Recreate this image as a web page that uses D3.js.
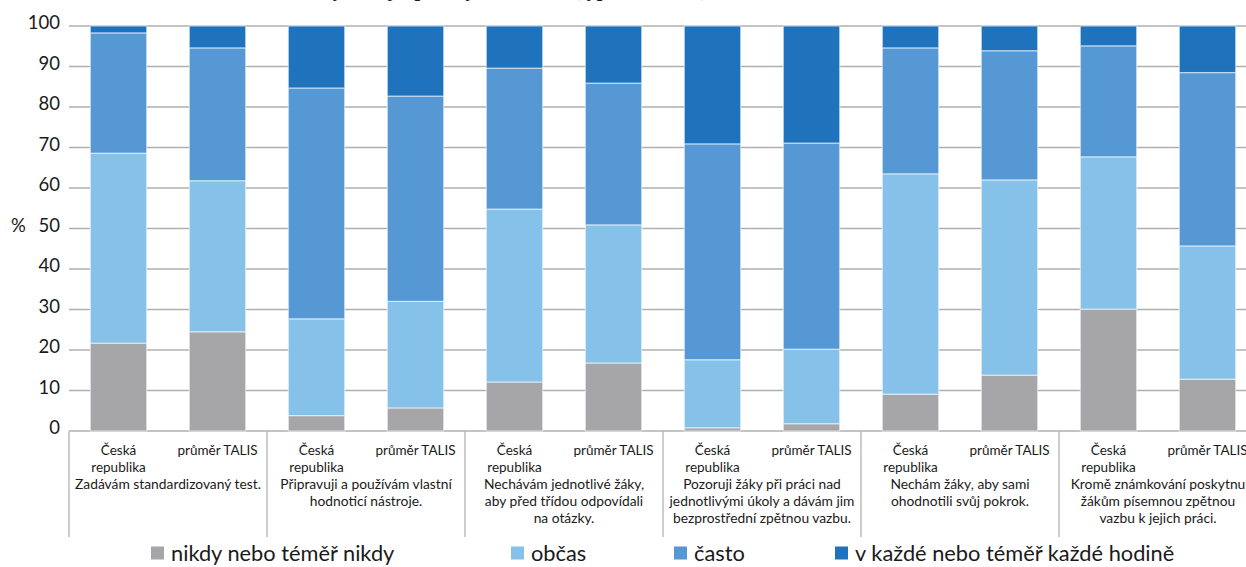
<!DOCTYPE html>
<html>
<head>
<meta charset="utf-8">
<script src="https://cdn.jsdelivr.net/npm/d3@7"></script>
<style>
  body { margin: 0; background: #fff; }
  svg { display: block; }
  text { font-family: Lato, "Open Sans", sans-serif; fill: #1a1a1a; }
</style>
</head>
<body>
<svg id="chart" width="1246" height="567"></svg>
<script>
// groups (statements) and the two bars in each group
var groups = [
    ['Zadávám standardizovaný test.'],
    ['Připravuji a používám vlastní', 'hodnoticí nástroje.'],
    ['Nechávám jednotlivé žáky,', 'aby před třídou odpovídali', 'na otázky.'],
    ['Pozoruji žáky při práci nad', 'jednotlivými úkoly a dávám jim', 'bezprostřední zpětnou vazbu.'],
    ['Nechám žáky, aby sami', 'ohodnotili svůj pokrok.'],
    ['Kromě známkování poskytnu', 'žákům písemnou zpětnou', 'vazbu k jejich práci.']
];
var subLabels = [['Česká', 'republika'], ['průměr TALIS']];

var seriesNames = ['nikdy nebo téměř nikdy', 'občas', 'často', 'v každé nebo téměř každé hodině'];
var seriesColors = ['#a6a6a9', '#85c1e9', '#5598d4', '#1f73bd'];

// values per bar, order: CZ, TALIS for each group
var nikdy = [21.7, 24.5, 3.8, 5.7, 12.1, 16.8, 0.8, 1.8, 9.1, 13.8, 30.1, 12.8];
var obcas = [46.9, 37.3, 23.9, 26.3, 42.7, 34.1, 16.8, 18.4, 54.4, 48.2, 37.6, 32.9];
var casto = [29.7, 32.8, 57.0, 50.7, 34.8, 35.0, 53.3, 50.9, 31.1, 31.9, 27.4, 42.8];
var kazde = [1.7, 5.4, 15.3, 17.3, 10.4, 14.1, 29.1, 28.9, 5.4, 6.1, 4.9, 11.5];

var yTicks = [0, 10, 20, 30, 40, 50, 60, 70, 80, 90, 100];

var svg = d3.select('#chart');
var W = 1246;
var x0 = 69, step = 99;

var rows = nikdy.map(function (v, i) {
    return {i: i, s0: v, s1: obcas[i], s2: casto[i], s3: kazde[i]};
});
var stack = d3.stack().keys(['s0', 's1', 's2', 's3']);
var stacked = stack(rows);

var x = d3.scaleBand()
    .domain(d3.range(rows.length))
    .range([x0, x0 + step * rows.length])
    .paddingInner(0.43)
    .paddingOuter(0.215);

var y = d3.scaleLinear().domain([0, 100]).range([431, 26]);

// title (mostly cut off by the top edge)
svg.append('text')
    .attr('x', 110).attr('y', -4)
    .style('font-family', '"Liberation Serif", serif')
    .style('font-weight', 'bold')
    .style('font-size', '20px')
    .text('Graf 4: Jak často učitelé využívají způsoby hodnocení (typ hodnocení),');

// gridlines
svg.append('g')
    .selectAll('line')
    .data(yTicks)
    .enter()
    .append('line')
    .attr('x1', x0).attr('x2', W)
    .attr('y1', function (d) { return y(d); })
    .attr('y2', function (d) { return y(d); })
    .style('stroke', '#afafaf')
    .style('stroke-width', 1.5);

// y labels
svg.append('g')
    .selectAll('text')
    .data(yTicks)
    .enter()
    .append('text')
    .attr('x', 60)
    .attr('y', function (d) { return y(d) + 3; })
    .attr('text-anchor', 'end')
    .style('font-size', '18.5px')
    .text(function (d) { return d; });

svg.append('text')
    .attr('x', 11).attr('y', y(50) + 3)
    .style('font-size', '18.5px')
    .text('%');

// bars
svg.append('g')
    .selectAll('g')
    .data(stacked)
    .enter()
    .append('g')
    .style('fill', function (d, i) { return seriesColors[i]; })
    .selectAll('rect')
    .data(function (d) { return d; })
    .enter()
    .append('rect')
    .attr('x', function (d) { return x(d.data.i); })
    .attr('width', x.bandwidth())
    .attr('y', function (d) { return y(d[1]); })
    .attr('height', function (d) { return y(d[0]) - y(d[1]); })
    .style('stroke', 'rgba(255,255,255,0.55)')
    .style('stroke-width', 1.2);

// group separators
var seps = d3.range(groups.length + 1).map(function (g) { return x0 + g * 2 * step; });
svg.append('g')
    .selectAll('line')
    .data(seps)
    .enter()
    .append('line')
    .attr('x1', function (d) { return d; }).attr('x2', function (d) { return d; })
    .attr('y1', 431).attr('y2', 537)
    .style('stroke', '#b3b3b3')
    .style('stroke-width', 1.3);

// bar labels
var barLab = svg.append('g')
    .selectAll('text')
    .data(rows)
    .enter()
    .append('text')
    .attr('text-anchor', 'middle')
    .style('font-size', '13.5px');
barLab.selectAll('tspan')
    .data(function (d) { return subLabels[d.i % 2].map(function (t) { return {t: t, i: d.i}; }); })
    .enter()
    .append('tspan')
    .attr('x', function (d) { return x(d.i) + x.bandwidth() / 2; })
    .attr('y', function (d, j) { return 455 + j * 16.5; })
    .text(function (d) { return d.t; });

// group labels
var grpLab = svg.append('g')
    .selectAll('text')
    .data(groups)
    .enter()
    .append('text')
    .attr('text-anchor', 'middle')
    .style('font-size', '13.8px');
grpLab.selectAll('tspan')
    .data(function (d, g) { return d.map(function (t) { return {t: t, g: g}; }); })
    .enter()
    .append('tspan')
    .attr('x', function (d) { return x0 + d.g * 2 * step + step; })
    .attr('y', function (d, j) { return 489 + j * 17; })
    .text(function (d) { return d.t; });

// legend
var legX = [151, 511, 674, 835];
var leg = svg.append('g')
    .selectAll('g')
    .data(seriesNames)
    .enter()
    .append('g')
    .attr('transform', function (d, i) { return translateSVG(legX[i], 553); });

leg.append('rect')
    .attr('x', 0).attr('y', -6.5)
    .attr('width', 13).attr('height', 13)
    .style('fill', function (d, i) { return seriesColors[i]; });

leg.append('text')
    .attr('x', 20).attr('y', 8)
    .style('font-size', '21.8px')
    .text(function (d) { return d; });

function translateSVG(a, b) {
    return 'translate(' + a + ',' + b + ')';
}
</script>
</body>
</html>
